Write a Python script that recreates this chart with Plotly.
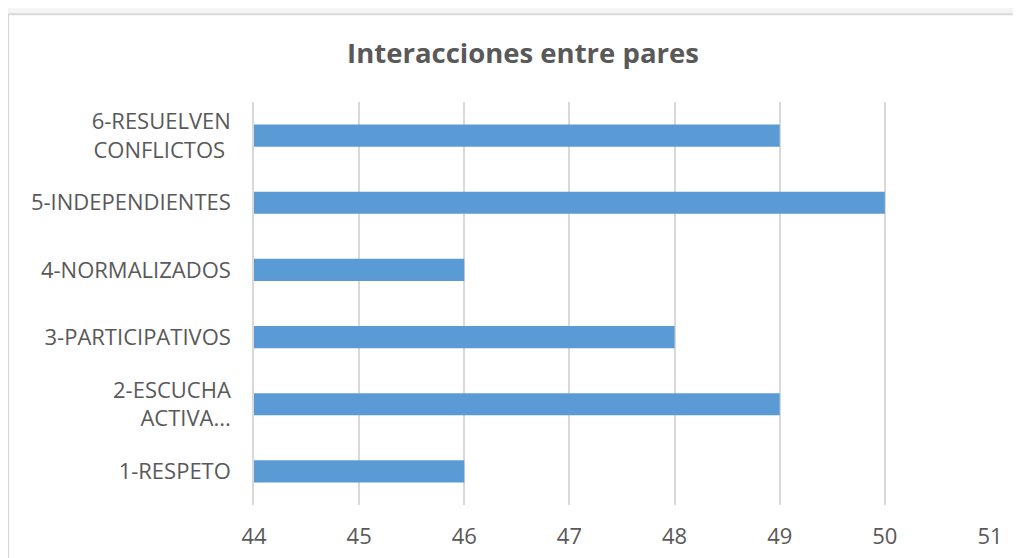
import plotly.graph_objects as go

categorias = ["1-RESPETO", "2-ESCUCHA<br>ACTIVA...", "3-PARTICIPATIVOS",
              "4-NORMALIZADOS", "5-INDEPENDIENTES", "6-RESUELVEN<br>CONFLICTOS "]
valores = [46, 49, 48, 46, 50, 49]
ticks_x = [44, 45, 46, 47, 48, 49, 50, 51]

gris = "#595959"
fuente = "Open Sans, Liberation Sans, sans-serif"

fig = go.Figure()
fig.add_trace(go.Bar(
    y=categorias, x=valores, orientation="h",
    marker=dict(color="#5b9bd5", line=dict(width=0)),
    width=0.33, hoverinfo="x+y"
))

# marco del grafico (estilo Excel)
fig.add_shape(type="rect", xref="paper", yref="paper",
              x0=-0.334, x1=1.1, y0=-0.2, y1=1.218,
              fillcolor="white", line=dict(color="#d9d9d9", width=2), layer="below")

# la pagina deja 8px de margen en el body, se compensa aqui
fig.update_layout(
    width=1021, height=558,
    margin=dict(l=246, r=39, t=94, b=61),
    paper_bgcolor="#f4f4f4", plot_bgcolor="rgba(0,0,0,0)",
    font=dict(family=fuente, color=gris, size=20),
    title=dict(text="<b>Interacciones entre pares</b>", x=515 / 1021, xanchor="center",
               y=1 - 45 / 558, yanchor="middle", yref="container",
               font=dict(size=27.5, color=gris)),
    showlegend=False,
    xaxis=dict(range=[44, 51], tickvals=ticks_x, showgrid=True, gridcolor="#d9d9d9",
               gridwidth=1.5, zeroline=False, showline=False, ticklabelstandoff=16,
               tickfont=dict(size=22, color=gris)),
    yaxis=dict(categoryorder="array", categoryarray=categorias, showgrid=False,
               showline=True, linecolor="#d9d9d9", linewidth=1.5,
               ticklabelstandoff=17, tickfont=dict(size=22, color=gris)),
)

fig.write_html("out.html")
